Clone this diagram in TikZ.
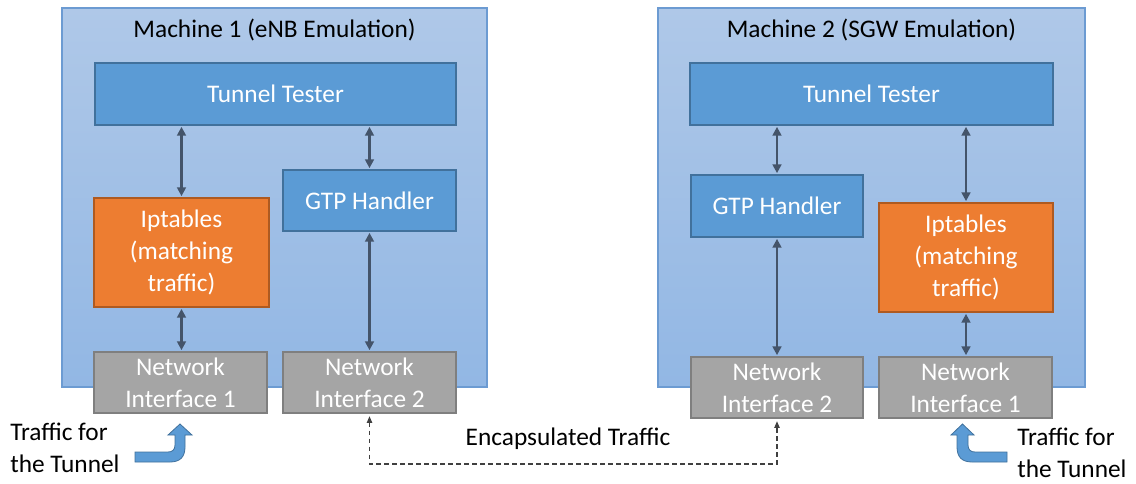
\documentclass[tikz,border=0pt]{standalone}
\usepackage{fontspec}
\setmainfont{Carlito}
\usetikzlibrary{arrows.meta}
\definecolor{mtop}{HTML}{AFC8E8}
\definecolor{mbot}{HTML}{92B7E4}
\definecolor{mline}{HTML}{6C9BD2}
\definecolor{bluefill}{HTML}{5B9BD5}
\definecolor{blueline}{HTML}{41719C}
\definecolor{orangefill}{HTML}{ED7D31}
\definecolor{orangeline}{HTML}{AE5A21}
\definecolor{grayfill}{HTML}{A5A5A5}
\definecolor{grayline}{HTML}{7F7F7F}
\definecolor{conn}{HTML}{44546A}
\definecolor{dashc}{HTML}{404040}
\tikzset{
  wh/.style 2 args={minimum width=#1*0.75pt, minimum height=#2*0.75pt},
  txt/.style={font=\fontsize{19}{24}\selectfont, align=center, inner sep=0pt},
  machine/.style={draw=mline, line width=0.8pt, top color=mtop, bottom color=mbot, inner sep=0pt},
  bluebox/.style={txt, draw=blueline, fill=bluefill, line width=0.8pt, text=white},
  orangebox/.style={txt, draw=orangeline, fill=orangefill, line width=0.8pt, text=white},
  graybox/.style={txt, draw=grayline, fill=grayfill, line width=0.8pt, text=white},
  link/.style={draw=conn, line width=2pt, {Triangle[length=6.5pt,width=6.5pt]}-{Triangle[length=6.5pt,width=6.5pt]}, shorten <=1pt, shorten >=1pt},
  tunnel/.style={draw=dashc, line width=0.9pt, dash pattern=on 3.5pt off 2.5pt, {Triangle[length=5pt,width=4pt]}-{Triangle[length=5pt,width=4pt]}, shorten <=2pt, shorten >=2pt},
  fatarrow/.style={fill=bluefill, draw=blueline, line width=0.6pt, line join=miter}
}
\begin{document}
\begin{tikzpicture}[x=0.75pt, y=-0.75pt]
\useasboundingbox (0,0) rectangle (1136,483);

% machine enclosures
\node[machine, wh={425}{379}] (m1) at (274.5,197.5) {};
\node[machine, wh={427}{379}] (m2) at (871.5,197.5) {};
\node[txt] (m1t) at (274.5,30) {Machine 1 (eNB Emulation)};
\node[txt] (m2t) at (871.5,30) {Machine 2 (SGW Emulation)};

% machine 1 components
\node[bluebox, wh={361}{62}] (tt1) at (275.5,94) {Tunnel Tester};
\node[orangebox, wh={175}{109}] (ipt1) at (181.5,252.5) {Iptables\\(matching\\traffic)};
\node[bluebox, wh={173}{61}] (gtp1) at (369.5,200.5) {GTP Handler};
\node[graybox, wh={173}{61}] (ni1a) at (180.5,382.5) {Network\\Interface 1};
\node[graybox, wh={173}{61}] (ni2a) at (369.5,382.5) {Network\\Interface 2};

% machine 2 components
\node[bluebox, wh={363}{62}] (tt2) at (871.5,94) {Tunnel Tester};
\node[bluebox, wh={172}{62}] (gtp2) at (777,206) {GTP Handler};
\node[orangebox, wh={174}{109}] (ipt2) at (966,257.5) {Iptables\\(matching\\traffic)};
\node[graybox, wh={172}{61}] (ni2b) at (777,387.5) {Network\\Interface 2};
\node[graybox, wh={173}{61}] (ni1b) at (965.5,387.5) {Network\\Interface 1};

% internal links, machine 1
\draw[link] (tt1.south -| ipt1.north) -- (ipt1.north);
\draw[link] (tt1.south -| gtp1.north) -- (gtp1.north);
\draw[link] (ipt1.south) -- (ipt1.south |- ni1a.north);
\draw[link] (gtp1.south) -- (gtp1.south |- ni2a.north);

% internal links, machine 2
\draw[link] (tt2.south -| gtp2.north) -- (gtp2.north);
\draw[link] (tt2.south -| ipt2.north) -- (ipt2.north);
\draw[link] (gtp2.south) -- (gtp2.south |- ni2b.north);
\draw[link] (ipt2.south) -- (ipt2.south |- ni1b.north);

% encapsulated traffic between the two interfaces
\coordinate (bot) at (573.5,464);
\draw[tunnel] (ni2a.south) |- (bot) -| (ni2b.south);
\node[txt] (enc) at (568,439) {Encapsulated Traffic};

% incoming traffic, machine 1
\node[txt, align=left, anchor=west] (tr1) at (10,448) {Traffic for\\the Tunnel};
\draw[fatarrow] (135,452) -- (168,452) .. controls (172,452) and (175,450) .. (175,445)
  -- (175,435) -- (168,435) -- (180,424) -- (192,435) -- (185,435) -- (185,447)
  .. controls (185,457) and (180,462) .. (170,462) -- (135,462) -- cycle;

% incoming traffic, machine 2
\node[txt, align=left, anchor=west] (tr2) at (1017,453) {Traffic for\\the Tunnel};
\draw[fatarrow] (1007,452) -- (975,452) .. controls (971,452) and (968,450) .. (968,445)
  -- (968,435) -- (974,435) -- (962.5,424) -- (951,435) -- (957,435) -- (957,447)
  .. controls (957,457) and (962,462) .. (972,462) -- (1007,462) -- cycle;
\end{tikzpicture}
\end{document}
